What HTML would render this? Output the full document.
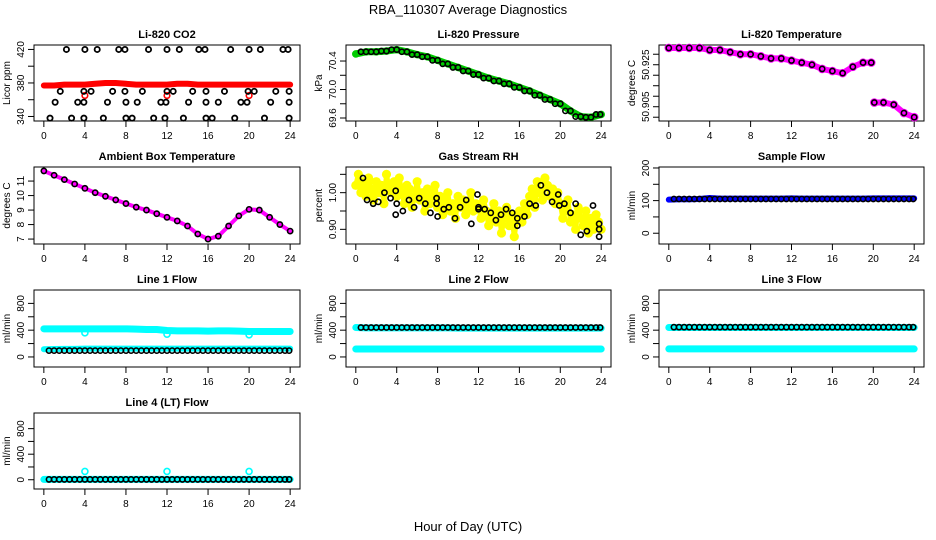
<!DOCTYPE html>
<html><head><meta charset="utf-8"><style>
html,body{margin:0;padding:0;background:#fff;}
svg{display:block;font-family:"Liberation Sans",sans-serif;}
</style></head><body>
<svg id="chart" width="936" height="540" viewBox="0 0 936 540">
<rect width="936" height="540" fill="#fff"/>
<text x="468" y="14" text-anchor="middle" font-size="13">RBA_110307  Average Diagnostics</text>
<text x="468" y="531" text-anchor="middle" font-size="13">Hour of Day (UTC)</text>
</svg>
<script>
// ---- data ----
const hours = [0,1,2,3,4,5,6,7,8,9,10,11,12,13,14,15,16,17,18,19,20,21,22,23,24];
const halfHours = [0.5,1,1.5,2,2.5,3,3.5,4,4.5,5,5.5,6,6.5,7,7.5,8,8.5,9,9.5,10,10.5,11,11.5,12,12.5,13,13.5,14,14.5,15,15.5,16,16.5,17,17.5,18,18.5,19,19.5,20,20.5,21,21.5,22,22.5,23,23.5,23.9];
const outlierTimes = [4,12,20];

const co2Red = [377,377,378,378,378,379,380,380,379,378,378,378,378,379,379,378,378,378,378,378,378,378,378,378,378];
const co2RedOut = [365,365,365];
const co2BlackT = [2.2,4.0,5.2,7.3,7.9,10.2,12.0,13.2,15.1,15.7,18.2,20.0,21.1,23.3,23.8,
 1.6,3.9,4.6,6.7,7.9,9.6,12.0,12.6,14.5,15.8,17.6,19.9,20.5,22.6,23.9,
 1.1,3.3,3.9,6.2,8.0,9.1,11.4,11.9,14.1,15.8,17.0,19.2,19.8,22.1,23.9,
 0.6,2.7,3.9,5.8,8.0,8.6,10.7,11.8,13.6,15.8,16.4,18.6,21.5,23.9];
const co2BlackV = [420,420,420,420,420,420,420,420,420,420,420,420,420,420,420,
 370,370,370,370,370,370,370,370,370,370,370,370,370,370,370,
 357,357,357,357,357,357,357,357,357,357,357,357,357,357,357,
 338,338,338,338,338,338,338,338,338,338,338,338,338,338];

const pressGreen = [70.50,70.53,70.53,70.54,70.56,70.53,70.49,70.46,70.41,70.36,70.31,70.26,70.21,70.16,70.12,70.08,70.03,69.98,69.92,69.86,69.80,69.70,69.62,69.61,69.65];

const tempT = [0,1,2,3,4,5,6,7,8,9,10,11,12,13,14,15,16,17,18,19,19.8,20.1,21,22,23,24];
const tempMag = [50.933,50.933,50.933,50.933,50.932,50.932,50.931,50.930,50.930,50.929,50.928,50.928,50.927,50.926,50.925,50.923,50.922,50.921,50.924,50.926,50.926,50.907,50.907,50.906,50.902,50.900];

const ambient = [11.7,11.4,11.1,10.8,10.5,10.2,9.95,9.7,9.45,9.2,9.0,8.75,8.5,8.25,7.9,7.35,7.0,7.2,7.9,8.6,9.05,9.0,8.5,8.0,7.55];

const rhT = [0,0.25,0.5,0.75,1,1.25,1.5,1.75,2,2.25,2.5,2.75,3,3.25,3.5,3.75,4,4.25,4.5,4.75,5,5.25,5.5,5.75,6,6.25,6.5,6.75,7,7.25,7.5,7.75,8,8.25,8.5,8.75,9,9.25,9.5,9.75,10,10.25,10.5,10.75,11,11.25,11.5,11.75,12,12.25,12.5,12.75,13,13.25,13.5,13.75,14,14.25,14.5,14.75,15,15.25,15.5,15.75,16,16.25,16.5,16.75,17,17.25,17.5,17.75,18,18.25,18.5,18.75,19,19.25,19.5,19.75,20,20.25,20.5,20.75,21,21.25,21.5,21.75,22,22.25,22.5,22.75,23,23.25,23.5,23.75,24];
const rhYellow = [1.02,1.05,1.00,1.03,0.99,1.04,1.01,0.98,1.03,1.00,1.02,0.97,1.05,1.01,1.00,1.03,
 0.99,1.04,1.00,0.97,1.02,1.01,0.96,0.99,1.03,0.98,1.00,0.95,1.01,0.97,0.99,1.02,
 0.96,0.99,0.94,0.98,1.00,0.95,0.97,0.93,0.99,0.96,0.98,0.94,0.97,1.00,0.95,0.97,
 0.96,0.93,0.98,0.95,0.91,0.94,0.97,0.92,0.95,0.89,0.93,0.96,0.91,0.94,0.88,0.93,
 0.95,0.92,0.97,0.94,0.99,1.01,0.96,1.03,1.00,0.98,1.04,1.02,0.99,1.01,0.97,1.00,
 0.97,0.93,0.95,0.98,0.92,0.94,0.90,0.96,0.93,0.91,0.95,0.89,0.93,0.90,0.94,0.92,0.90];
const rhBlackT = [0.7,1.1,1.7,2.2,2.8,3.4,3.9,3.9,4.0,4.6,5.2,5.7,6.2,6.8,7.3,7.9,7.9,8.0,8.6,9.1,9.7,10.2,10.8,11.3,11.9,12.0,12.0,12.6,13.2,13.7,14.2,14.7,15.3,15.8,15.8,16.5,17.0,17.6,18.1,18.7,19.2,19.8,19.9,20.4,21.0,21.5,22.0,22.6,23.2,23.8,23.8,23.8];
const rhBlackV = [1.04,0.98,0.97,0.975,1.00,0.985,1.005,0.94,0.97,0.95,0.98,0.96,0.985,0.97,0.945,0.985,0.97,0.935,0.955,0.96,0.93,0.96,0.98,0.915,0.995,0.96,0.955,0.955,0.945,0.925,0.94,0.955,0.945,0.93,0.91,0.935,0.97,0.965,1.02,1.00,0.975,0.995,0.965,0.97,0.945,0.97,0.885,0.895,0.965,0.915,0.90,0.88];

const sampleBlue = [103,104,104,105,108,106,106,106,106,106,106,106,107,106,106,106,106,106,106,106,107,107,107,107,107];

const line1Upper = [420,420,420,420,420,420,420,420,420,415,410,410,395,390,390,390,385,390,390,385,380,380,380,380,380];
const line1Lower = [115,118,120,120,125,125,125,125,125,125,125,125,125,125,125,125,125,125,125,125,125,125,125,125,125];
const line1Black = 95;
const line1Out = [360,340,330];
const line2Upper = [440,435,435,435,435,435,435,435,435,435,430,430,430,430,430,430,430,430,430,430,430,430,430,430,430];
const line2Lower = [118,118,118,118,118,118,118,118,118,118,118,118,118,118,118,118,118,118,118,118,118,118,118,118,118];
const line2Black = 440;
const line3Upper = [440,440,440,440,440,440,440,440,440,440,440,440,440,440,440,440,440,440,440,440,440,440,440,440,440];
const line3Lower = [120,120,120,120,120,120,120,120,120,120,120,120,120,120,120,120,120,120,120,120,120,120,120,120,120];
const line3Black = 445;
const line4Cyan = [5,5,5,5,5,5,5,5,5,5,5,5,5,5,5,5,5,5,5,5,5,5,5,5,5];
const line4Black = 5;
const line4Out = [130,130,130];

const xTicks = [0,4,8,12,16,20,24];
const flowTicks = [0,200,400,600,800];
const flowLabels = ["0","","400","","800"];

// ---- layout ----
const NS = "http://www.w3.org/2000/svg";
const svg = document.getElementById('chart');
const colX = [[34,300],[346,611],[659,924]];
const rowY = [[45,121],[167,244],[290,367],[413,489]];

function el(tag, attrs, parent){
  const e = document.createElementNS(NS, tag);
  for (const k in attrs) e.setAttribute(k, attrs[k]);
  (parent||svg).appendChild(e);
  return e;
}

function makePanel(col,row,title,ylab,yMin,yMax,yTicks,yLabels,slug){
  const [x0,x1] = colX[col], [y0,y1] = rowY[row];
  const g = el('g',{});
  
  
  const xs = t => x0 + (t + 0.96) / 25.92 * (x1 - x0);
  const ys = v => y1 - (v - yMin) / (yMax - yMin) * (y1 - y0);
  const t1 = el('text',{x:(x0+x1)/2, y:y0-7, 'text-anchor':'middle','font-size':11,'font-weight':'bold'},g);
  t1.textContent = title;
  
  
  const box = el('rect',{x:x0,y:y0,width:x1-x0,height:y1-y0,fill:'none',stroke:'#000','stroke-width':1},g);
  
  
  const xa = el('g',{},g);
  
  
  xTicks.forEach(t=>{
    el('line',{x1:xs(t),x2:xs(t),y1:y1,y2:y1+6,stroke:'#000'},xa);
    const tx = el('text',{x:xs(t),y:y1+18,'text-anchor':'middle','font-size':10},xa);
    tx.textContent = t;
  });
  const ya = el('g',{},g);
  
  
  yTicks.forEach((v,i)=>{
    el('line',{x1:x0-6,x2:x0,y1:ys(v),y2:ys(v),stroke:'#000'},ya);
    if (yLabels[i]) {
      const tx = el('text',{x:0,y:0,'text-anchor':'middle','font-size':10,transform:`translate(${x0-10},${ys(v)}) rotate(-90)`},ya);
      tx.textContent = yLabels[i];
    }
  });
  const yl = el('text',{x:0,y:0,'text-anchor':'middle','font-size':10,transform:`translate(${x0-24},${(y0+y1)/2}) rotate(-90)`},g);
  yl.textContent = ylab;
  
  
  const clip = el('g',{},g);
  return {xs,ys,g:clip,slug};
}

function band(p,ts,vs,color,w,name){
  const pts = ts.map((t,i)=>p.xs(t)+','+p.ys(vs[i])).join(' ');
  const pl = el('polyline',{points:pts,fill:'none',stroke:color,'stroke-width':w,'stroke-linejoin':'round','stroke-linecap':'round'},p.g);
  
  
}
function pts(p,ts,vs,color,r,sw,name){
  const gg = el('g',{},p.g);
  
  
  ts.forEach((t,i)=>{
    const c = el('circle',{cx:p.xs(t),cy:p.ys(vs[i]),r:r,fill:'none',stroke:color,'stroke-width':sw},gg);
    
  });
}
const fill = (n,v)=>Array(n).fill(v);

// Panel 1 CO2
let p = makePanel(0,0,'Li-820 CO2','Licor ppm',334.6,425.3,[340,360,380,400,420],['340','','380','','420'],'co2');
band(p,hours,co2Red,'#ff0000',6,'red-band');
pts(p,outlierTimes,co2RedOut,'#ff0000',2.8,1.6,'red-outliers');
pts(p,co2BlackT,co2BlackV,'#000',2.6,1.8,'black-points');

// Panel 2 Pressure
p = makePanel(1,0,'Li-820 Pressure','kPa',69.558,70.625,[69.6,69.8,70.0,70.2,70.4],['69.6','','70.0','','70.4'],'pressure');
band(p,hours,pressGreen,'#00cc00',7,'green-band');
pts(p,hours,pressGreen,'#00cc00',3,1.6,'green-points');
pts(p,halfHours,halfHours.map(t=>pressGreen[Math.round(t)]),'#000',2.6,1.6,'black-points');

// Panel 3 Li-820 Temp
p = makePanel(2,0,'Li-820 Temperature','degrees C',50.8982,50.9344,[50.900,50.905,50.910,50.915,50.920,50.925,50.930],['','50.905','','','','50.925',''],'li820-temp');
band(p,tempT.slice(0,21),tempMag.slice(0,21),'#ff00ff',6,'magenta-band-1');
band(p,tempT.slice(21),tempMag.slice(21),'#ff00ff',6,'magenta-band-2');
pts(p,tempT,tempMag,'#ff00ff',3.5,1.6,'magenta-points');
pts(p,tempT,tempMag,'#000',2.6,1.6,'black-points');

// Panel 4 Ambient
p = makePanel(0,1,'Ambient Box Temperature','degrees C',6.66,11.97,[7,8,9,10,11],['7','8','9','10','11'],'ambient-temp');
band(p,hours,ambient,'#ff00ff',4,'magenta-band');
pts(p,hours,ambient,'#000',2.6,1.6,'black-points');

// Panel 5 RH
p = makePanel(1,1,'Gas Stream RH','percent',0.860,1.070,[0.90,0.95,1.00,1.05],['0.90','','1.00',''],'gas-rh');
pts(p,rhT,rhYellow,'#ffff00',3.4,2.4,'yellow-points');
band(p,rhT,rhYellow,'#ffff00',5,'yellow-band');
pts(p,rhBlackT,rhBlackV,'#000',2.6,1.6,'black-points');

// Panel 6 Sample flow
p = makePanel(2,1,'Sample Flow','ml/min',-33,203,[0,50,100,150,200],['0','','100','','200'],'sample-flow');
band(p,hours,sampleBlue,'#0000ff',6,'blue-band');
pts(p,halfHours,fill(halfHours.length,105),'#000',2.6,1.6,'black-points');

// Flow panels
p = makePanel(0,2,'Line 1 Flow','ml/min',-150,1000,flowTicks,flowLabels,'line1-flow');
band(p,hours,line1Upper,'#00ffff',7,'cyan-upper');
band(p,hours,line1Lower,'#00ffff',6,'cyan-lower');
pts(p,outlierTimes,line1Out,'#00ffff',3,1.6,'cyan-outliers');
pts(p,halfHours,fill(halfHours.length,line1Black),'#000',2.6,1.6,'black-points');

p = makePanel(1,2,'Line 2 Flow','ml/min',-150,1000,flowTicks,flowLabels,'line2-flow');
band(p,hours,line2Upper,'#00ffff',7,'cyan-upper');
band(p,hours,line2Lower,'#00ffff',7,'cyan-lower');
pts(p,halfHours,fill(halfHours.length,line2Black),'#000',2.6,1.6,'black-points');

p = makePanel(2,2,'Line 3 Flow','ml/min',-150,1000,flowTicks,flowLabels,'line3-flow');
band(p,hours,line3Upper,'#00ffff',7,'cyan-upper');
band(p,hours,line3Lower,'#00ffff',7,'cyan-lower');
pts(p,halfHours,fill(halfHours.length,line3Black),'#000',2.6,1.6,'black-points');

p = makePanel(0,3,'Line 4 (LT) Flow','ml/min',-145,1045,flowTicks,flowLabels,'line4-flow');
band(p,hours,line4Cyan,'#00ffff',7,'cyan-band');
pts(p,outlierTimes,line4Out,'#00ffff',3,1.6,'cyan-outliers');
pts(p,halfHours,fill(halfHours.length,line4Black),'#000',2.6,1.6,'black-points');
</script>
</body></html>
